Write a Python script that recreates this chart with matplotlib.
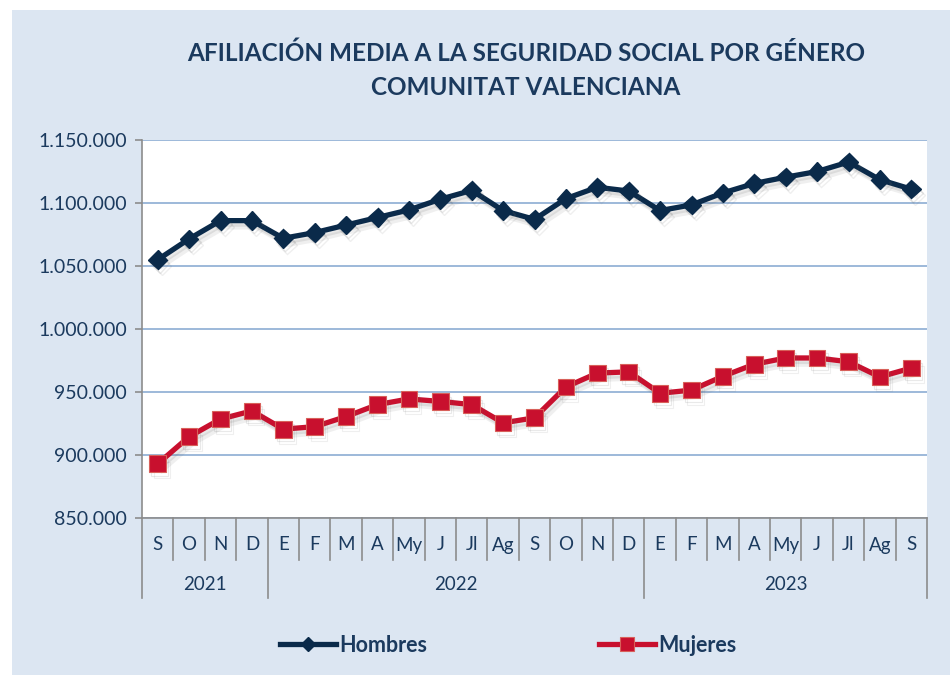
import matplotlib
matplotlib.use("Agg")
import matplotlib.pyplot as plt
from matplotlib import patheffects as pe
from matplotlib.patches import Rectangle
from matplotlib.lines import Line2D
import matplotlib.transforms as mtransforms
import matplotlib.ticker as mticker

months = ["S", "O", "N", "D", "E", "F", "M", "A", "My", "J", "Jl", "Ag", "S", "O", "N", "D",
          "E", "F", "M", "A", "My", "J", "Jl", "Ag", "S"]
years = ["2021", "2022", "2023"]
year_counts = [4, 12, 9]
hombres = [1055000, 1071500, 1086000, 1086000, 1072000, 1076500, 1082500, 1088500, 1094500,
           1103000, 1110000, 1094000, 1087000, 1103500, 1112500, 1109500, 1094000, 1098500,
           1108000, 1115500, 1120500, 1125000, 1132500, 1118500, 1111000]
mujeres = [893000, 914500, 928500, 935000, 920500, 922500, 930500, 940000, 944500,
           942500, 940000, 925500, 929500, 954000, 965000, 966000, 949000, 951500,
           962500, 972000, 977000, 977000, 974000, 962000, 969000]
title = "AFILIACIÓN MEDIA A LA SEGURIDAD SOCIAL POR GÉNERO\nCOMUNITAT VALENCIANA"

FONT = ["Lato", "DejaVu Sans"]
NARROW = ["Liberation Sans Narrow", "Lato", "DejaVu Sans"]
TXT = "#1B3A5E"
BG = "#DCE6F2"
C_H = "#0A2A4A"
C_M = "#C8102E"

fig = plt.figure(figsize=(9.5, 6.75), dpi=100)
fig.patch.set_facecolor("white")
fig.patches.append(Rectangle((12 / 950, 0), 1, 1 - 10 / 675, transform=fig.transFigure,
                             facecolor=BG, edgecolor="none", zorder=-5))

W, H = 950, 675
L, R, T, B = 142, 927, 140, 518
ax = fig.add_axes([L / W, 1 - B / H, (R - L) / W, (B - T) / H])
ax.set_facecolor("white")
ax.set_zorder(1)

x = list(range(len(months)))
shadow = [pe.SimpleLineShadow(offset=(1.5, -2.5), shadow_color="#666666", alpha=0.14),
          pe.SimpleLineShadow(offset=(3, -4.5), shadow_color="#666666", alpha=0.10),
          pe.Normal()]
ax.plot(x, hombres, color=C_H, lw=3.8, marker="D", markersize=9.5,
        markeredgecolor=C_H, path_effects=shadow, zorder=3)
ax.plot(x, mujeres, color=C_M, lw=3.8, marker="s", markersize=12,
        markeredgecolor="#D8605A", markeredgewidth=0.8, path_effects=shadow, zorder=3)

ax.set_xlim(-0.5, len(months) - 0.5)
ax.set_ylim(850000, 1150000)
ax.yaxis.set_major_locator(mticker.MultipleLocator(50000))
ax.yaxis.set_major_formatter(mticker.FuncFormatter(lambda v, p: f"{int(v):,}".replace(",", ".")))
ax.grid(axis="y", color="#95B3D7", lw=1.3)
ax.set_axisbelow(True)
for s in ["top", "right"]:
    ax.spines[s].set_visible(False)
for s in ["left", "bottom"]:
    ax.spines[s].set_color("#8C8C8C")
    ax.spines[s].set_linewidth(1.2)
ax.tick_params(axis="y", colors="#8C8C8C", length=5, width=1.2, pad=6, labelcolor=TXT)
for lab in ax.get_yticklabels():
    lab.set_fontfamily(FONT)
    lab.set_fontsize(14)
ax.set_xticks([])

ph = B - T
tr = mtransforms.blended_transform_factory(ax.transData, ax.transAxes)
for i, m in enumerate(months):
    ax.text(i, -27 / ph, m, transform=tr, ha="center", va="center", fontsize=13.5,
            family=NARROW, color=TXT)
bounds = [-0.5]
for c in year_counts:
    bounds.append(bounds[-1] + c)
for i in range(len(months) + 1):
    xb = i - 0.5
    ybot = -80 / ph if xb in bounds else -42 / ph
    ax.add_line(Line2D([xb, xb], [0, ybot], transform=tr, color="#8C8C8C", lw=1.2,
                       clip_on=False))
for k, yl in enumerate(years):
    xc = (bounds[k] + bounds[k + 1]) / 2
    ax.text(xc, -67 / ph, yl, transform=tr, ha="center", va="center", fontsize=13.5,
            family=NARROW, color=TXT)

fig.text(526 / W, 1 - 70 / H, title, ha="center", va="center", fontsize=17.5, fontweight="bold",
         family=FONT, color=TXT, linespacing=1.6)

handles = [Line2D([], [], color=C_H, lw=3.8, marker="D", markersize=7),
           Line2D([], [], color=C_M, lw=3.8, marker="s", markersize=10,
                  markeredgecolor="#D8605A", markeredgewidth=0.8)]
leg = fig.legend(handles, ["Hombres", "Mujeres"], loc="center",
                 bbox_to_anchor=(508 / W, 1 - 645 / H), ncol=2, frameon=False,
                 handlelength=2.6, handletextpad=0.15, columnspacing=8,
                 prop={"family": FONT, "size": 15.5, "weight": "bold"})
for t in leg.get_texts():
    t.set_color(TXT)

fig.savefig("out.png", dpi=100, facecolor=fig.get_facecolor())
